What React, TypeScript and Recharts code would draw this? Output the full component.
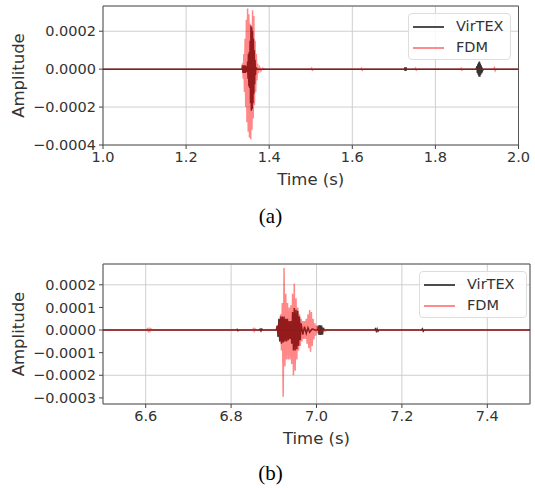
import React from "react";
import { LineChart, Line, XAxis, YAxis, CartesianGrid, ReferenceArea } from "recharts";

// (a) 1.0 - 2.0 s
const topTicksX = [1.0, 1.2, 1.4, 1.6, 1.8, 2.0];
const topTicksY = [-0.0004, -0.0002, 0, 0.0002];

const topFdmTime = [
  1.0, 1.334, 1.336, 1.3375, 1.339, 1.3405, 1.342, 1.3435, 1.345, 1.3465, 1.348, 1.3495,
  1.351, 1.3525, 1.354, 1.3555, 1.357, 1.3585, 1.36, 1.3615, 1.363, 1.3645, 1.366, 1.3675,
  1.369, 1.3705, 1.372, 1.374, 1.377, 1.38, 1.384, 1.39, 1.5, 1.502, 1.504, 1.506, 1.62,
  1.622, 1.624, 1.626, 1.75, 1.752, 1.754, 1.756, 1.86, 1.862, 1.864, 1.866, 1.94, 1.942,
  1.944, 1.946, 2.0,
];
const topFdmAmp = [
  0, 0, 0.3e-4, -0.5e-4, 0.8e-4, -1.2e-4, 1.6e-4, -2.0e-4, 2.6e-4, -2.8e-4, 3.2e-4, -3.3e-4,
  2.9e-4, -3.6e-4, 2.4e-4, -3.7e-4, 2.2e-4, -3.2e-4, 3.1e-4, -2.6e-4, 2.8e-4, -1.9e-4, 1.5e-4, -1.2e-4,
  0.8e-4, -0.6e-4, 0.3e-4, -0.2e-4, 0.1e-4, -0.1e-4, 0.05e-4, 0, 0, 0.05e-4, -0.05e-4, 0, 0,
  0.05e-4, -0.05e-4, 0, 0, 0.05e-4, -0.05e-4, 0, 0, 0.05e-4, -0.05e-4, 0, 0, 0.08e-4,
  -0.08e-4, 0, 0,
];

const topVirTime = [
  1.0, 1.335, 1.336, 1.337, 1.338, 1.339, 1.34, 1.341, 1.342, 1.343, 1.344, 1.345, 1.346, 1.347,
  1.348, 1.349, 1.35, 1.351, 1.352, 1.353, 1.354, 1.355, 1.356, 1.357, 1.358, 1.359, 1.36, 1.361,
  1.362, 1.363, 1.364, 1.365, 1.366, 1.367, 1.368, 1.37, 1.726, 1.7265, 1.727, 1.7275, 1.728,
  1.7285, 1.729, 1.7295, 1.73, 1.898, 1.9, 1.901, 1.902, 1.903, 1.904, 1.905, 1.906, 1.907, 1.908,
  1.909, 1.91, 1.911, 1.912, 1.913, 1.915, 2.0,
];
const topVirAmp = [
  0, 0, 0.2e-4, -0.2e-4, 0.2e-4, -0.2e-4, 0.2e-4, -0.2e-4, 0.2e-4, -0.2e-4, 0.15e-4, -0.15e-4, 0.1e-4, -0.1e-4,
  0.4e-4, -0.5e-4, 0.8e-4, -0.9e-4, 0.9e-4, -1.0e-4, 1.5e-4, -1.8e-4, 2.3e-4, -2.2e-4, 2.2e-4, -2.1e-4, 2.0e-4, -1.8e-4,
  1.6e-4, -1.3e-4, 1.0e-4, -0.8e-4, 0.5e-4, -0.3e-4, 0.1e-4, 0, 0, 0.1e-4, -0.1e-4, 0.1e-4, -0.1e-4,
  0.1e-4, -0.1e-4, 0.1e-4, 0, 0, 0.15e-4, -0.2e-4, 0.25e-4, -0.3e-4, 0.35e-4, -0.4e-4, 0.4e-4, -0.4e-4, 0.3e-4,
  -0.3e-4, 0.2e-4, -0.2e-4, 0.1e-4, -0.1e-4, 0, 0,
];

// (b) 6.5 - 7.5 s
const botTicksX = [6.6, 6.8, 7.0, 7.2, 7.4];
const botTicksY = [-0.0003, -0.0002, -0.0001, 0, 0.0001, 0.0002];

const botFdmTime = [
  6.5, 6.602, 6.604, 6.606, 6.608, 6.61, 6.612, 6.614, 6.85, 6.852, 6.854, 6.856, 6.858,
  6.906, 6.908, 6.91, 6.912, 6.914, 6.916, 6.918, 6.92, 6.922, 6.924, 6.926, 6.928,
  6.93, 6.932, 6.934, 6.936, 6.938, 6.94, 6.942, 6.944, 6.946, 6.948, 6.95, 6.952, 6.954, 6.956,
  6.958, 6.96, 6.962, 6.964, 6.966, 6.968, 6.97, 6.972, 6.974, 6.976, 6.978, 6.98, 6.982, 6.984,
  6.986, 6.988, 6.99, 6.992, 6.994, 6.996, 6.998, 7.0, 7.003, 7.006, 7.01, 7.015, 7.02, 7.025, 7.5,
];
const botFdmAmp = [
  0, 0, 0.05e-4, -0.05e-4, 0.05e-4, -0.05e-4, 0.05e-4, 0, 0, 0.05e-4, -0.05e-4, 0.05e-4, 0,
  0, 0.15e-4, -0.2e-4, 0.4e-4, -0.5e-4, 0.7e-4, -0.9e-4, 1.2e-4, -2.95e-4, 2.74e-4, -1.6e-4, 1.6e-4,
  -1.3e-4, 1.2e-4, -1.3e-4, 1.0e-4, -1.3e-4, 1.1e-4, -1.5e-4, 1.6e-4, -2.0e-4, 2.05e-4, -1.8e-4, 1.4e-4, -1.3e-4, 1.0e-4,
  -0.9e-4, 0.7e-4, -0.7e-4, 0.5e-4, -0.5e-4, 0.4e-4, -0.4e-4, 0.4e-4, -0.4e-4, 0.5e-4, -0.6e-4, 0.7e-4, -0.8e-4, 0.88e-4,
  -0.96e-4, 0.8e-4, -0.7e-4, 0.5e-4, -0.4e-4, 0.3e-4, -0.25e-4, 0.2e-4, -0.15e-4, 0.1e-4, -0.1e-4, 0.05e-4, -0.05e-4, 0, 0,
];

const botVirTime = [
  6.5, 6.812, 6.814, 6.816, 6.818, 6.866, 6.868, 6.87, 6.872, 6.874,
  6.906, 6.908, 6.91, 6.912, 6.914, 6.916, 6.918, 6.92, 6.922, 6.924, 6.926, 6.928, 6.93, 6.932,
  6.934, 6.936, 6.938, 6.94, 6.942, 6.944, 6.946, 6.948, 6.95, 6.952, 6.954, 6.956, 6.958, 6.96,
  6.962, 6.964, 6.968, 6.972, 6.976, 6.98, 6.984, 6.99, 6.996, 7.003, 7.004, 7.006, 7.008, 7.01,
  7.012, 7.014, 7.016, 7.018, 7.136, 7.138, 7.14, 7.142, 7.144, 7.146, 7.246, 7.248, 7.25, 7.252, 7.5,
];
const botVirAmp = [
  0, 0, 0.03e-4, -0.03e-4, 0, 0, 0.04e-4, -0.04e-4, 0.04e-4, 0,
  0, 0.2e-4, -0.3e-4, 0.5e-4, -0.5e-4, 0.6e-4, -0.6e-4, 0.6e-4, -0.55e-4, 0.6e-4, -0.5e-4, 0.5e-4, -0.5e-4, 0.5e-4,
  -0.45e-4, 0.4e-4, -0.4e-4, 0.4e-4, -0.6e-4, 0.8e-4, -0.9e-4, 0.97e-4, -0.9e-4, 0.9e-4, -0.85e-4, 0.85e-4, -0.7e-4, 0.6e-4,
  -0.45e-4, 0.3e-4, -0.2e-4, 0.15e-4, -0.15e-4, 0.1e-4, -0.1e-4, 0.05e-4, 0, 0, 0.2e-4, -0.22e-4, 0.22e-4, -0.22e-4,
  0.2e-4, -0.2e-4, 0.1e-4, 0, 0, 0.05e-4, -0.05e-4, 0.05e-4, -0.05e-4, 0, 0, 0.05e-4, -0.05e-4, 0, 0,
];

const FONT = "'DejaVu Sans', sans-serif";
const INK = "#333";
const VIR_COLOR = "#111";
const FDM_COLOR = "#ff0000";

const toRows = (t: number[], v: number[]) => t.map((x, i) => ({ t: x, v: v[i] }));

const fmtY = (v: number) => {
  const s = Math.abs(v).toFixed(4);
  return v < -1e-12 ? "\u2212" + s : s;
};

function LegendBox({ left, top, width }: { left: number; top: number; width: number }) {
  return (
    <div
      style={{
        position: "absolute",
        left,
        top,
        width,
        height: 47,
        boxSizing: "border-box",
        border: "1px solid #ddd",
        borderRadius: 4,
        background: "rgba(255,255,255,0.85)",
        padding: "2px 0 0 4px",
        fontFamily: FONT,
        fontSize: 14.5,
        color: INK,
        lineHeight: "21px",
      }}
    >
      {[
        { name: "VirTEX", color: VIR_COLOR, op: 0.75 },
        { name: "FDM", color: FDM_COLOR, op: 0.45 },
      ].map((e) => (
        <div key={e.name} style={{ display: "flex", alignItems: "center" }}>
          <svg width={43} height={10}>
            <line x1={0} x2={31} y1={5} y2={5} stroke={e.color} strokeOpacity={e.op} strokeWidth={2} />
          </svg>
          <span>{e.name}</span>
        </div>
      ))}
    </div>
  );
}

interface PanelProps {
  fdm: { t: number; v: number }[];
  vir: { t: number; v: number }[];
  xDomain: [number, number];
  yDomain: [number, number];
  xTicks: number[];
  yTicks: number[];
  marginRight: number;
  plotHeight: number;
}

function Panel(p: PanelProps) {
  const height = p.plotHeight + 6 + 54;
  return (
    <LineChart width={535} height={height} margin={{ top: 6, right: p.marginRight, left: 0, bottom: 14 }}>
      <CartesianGrid stroke="#cfcfcf" strokeWidth={1} />
      <XAxis
        type="number"
        dataKey="t"
        domain={p.xDomain}
        ticks={p.xTicks}
        allowDataOverflow
        tickFormatter={(v: number) => v.toFixed(1)}
        tick={{ fill: INK, fontSize: 14.5, fontFamily: FONT }}
        tickSize={4}
        tickMargin={3}
        tickLine={{ stroke: "#444" }}
        axisLine={false}
        height={40}
        label={{ value: "Time (s)", position: "insideBottom", offset: 0, fill: INK, fontSize: 16.5, fontFamily: FONT }}
      />
      <YAxis
        type="number"
        dataKey="v"
        domain={p.yDomain}
        ticks={p.yTicks}
        allowDataOverflow
        tickFormatter={fmtY}
        tick={{ fill: INK, fontSize: 14.5, fontFamily: FONT }}
        tickSize={4}
        tickMargin={3}
        tickLine={{ stroke: "#444" }}
        axisLine={false}
        width={103}
        label={{
          value: "Amplitude",
          angle: -90,
          position: "insideLeft",
          offset: 18,
          style: { textAnchor: "middle" },
          fill: INK,
          fontSize: 16.5,
          fontFamily: FONT,
        }}
      />
      <Line
        data={p.vir}
        dataKey="v"
        name="VirTEX"
        type="linear"
        stroke={VIR_COLOR}
        strokeOpacity={0.85}
        strokeWidth={1.5}
        dot={false}
        activeDot={false}
        isAnimationActive={false}
      />
      <Line
        data={p.fdm}
        dataKey="v"
        name="FDM"
        type="linear"
        stroke={FDM_COLOR}
        strokeOpacity={0.47}
        strokeWidth={1.5}
        dot={false}
        activeDot={false}
        isAnimationActive={false}
      />
      <ReferenceArea
        x1={p.xDomain[0]}
        x2={p.xDomain[1]}
        y1={p.yDomain[0]}
        y2={p.yDomain[1]}
        fill="none"
        stroke="#555"
        strokeWidth={1}
      />
    </LineChart>
  );
}

const captionStyle: React.CSSProperties = {
  position: "absolute",
  left: 0,
  width: 535,
  textAlign: "center",
  fontFamily: "'Liberation Serif', serif",
  fontSize: 21,
  paddingLeft: 6,
  boxSizing: "border-box",
  lineHeight: "24px",
};

export default function App() {
  return (
    <div style={{ position: "absolute", left: 0, top: 0, width: 535, height: 488, background: "#fff" }}>
      <div style={{ position: "absolute", left: 0, top: 0 }}>
        <Panel
          fdm={toRows(topFdmTime, topFdmAmp)}
          vir={toRows(topVirTime, topVirAmp)}
          xDomain={[1.0, 2.0]}
          yDomain={[-0.0004, 0.000333]}
          xTicks={topTicksX}
          yTicks={topTicksY}
          marginRight={16.5}
          plotHeight={139}
        />
        <LegendBox left={408} top={13} width={103} />
      </div>
      <div style={{ ...captionStyle, top: 204 }}>(a)</div>
      <div style={{ position: "absolute", left: 0, top: 258 }}>
        <Panel
          fdm={toRows(botFdmTime, botFdmAmp)}
          vir={toRows(botVirTime, botVirAmp)}
          xDomain={[6.5, 7.5]}
          yDomain={[-0.000327, 0.000292]}
          xTicks={botTicksX}
          yTicks={botTicksY}
          marginRight={5}
          plotHeight={140}
        />
        <LegendBox left={419} top={13} width={108} />
      </div>
      <div style={{ ...captionStyle, top: 461 }}>(b)</div>
    </div>
  );
}
